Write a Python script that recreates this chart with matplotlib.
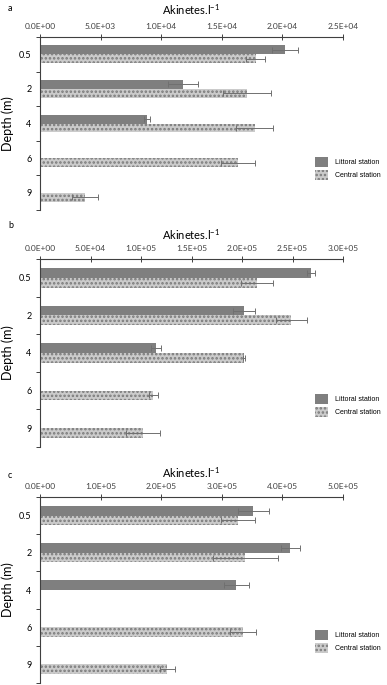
import numpy as np
import matplotlib
matplotlib.use("Agg")
import matplotlib.pyplot as plt
from matplotlib.ticker import FuncFormatter

plt.rcParams['font.family'] = ['Lato', 'DejaVu Sans']
plt.rcParams['hatch.linewidth'] = 1.2

# Depth categories (m)
depths = ['0.5', '2', '4', '6', '9']

# Panel a
littoral_a = [20200, 11800, 8800, np.nan, np.nan]
littoral_a_err = [1050, 1250, 250, np.nan, np.nan]
central_a = [17800, 17100, 17700, 16300, 3700]
central_a_err = [800, 2000, 1500, 1400, 1100]

# Panel b
littoral_b = [268e3, 202e3, 115e3, np.nan, np.nan]
littoral_b_err = [4e3, 10.5e3, 5e3, np.nan, np.nan]
central_b = [215e3, 249e3, 202e3, 112e3, 102e3]
central_b_err = [16e3, 15e3, 1e3, 4.5e3, 17e3]

# Panel c
littoral_c = [352e3, 413e3, 324e3, np.nan, np.nan]
littoral_c_err = [26e3, 16e3, 21e3, np.nan, np.nan]
central_c = [326e3, 339e3, np.nan, 335e3, 210e3]
central_c_err = [28e3, 54e3, np.nan, 21e3, 12e3]

x_ticks_a = [0, 5e3, 1e4, 1.5e4, 2e4, 2.5e4]
x_ticks_b = [0, 5e4, 1e5, 1.5e5, 2e5, 2.5e5, 3e5]
x_ticks_c = [0, 1e5, 2e5, 3e5, 4e5, 5e5]

W, H = 387, 685
fig = plt.figure(figsize=(W / 100, H / 100), dpi=100)


def px_axes(top, bottom, left=40, right=343):
    return fig.add_axes([left / W, 1 - bottom / H, (right - left) / W, (bottom - top) / H])


def draw_panel(ax, lit, lit_err, cen, cen_err, xticks, letter, letter_y, title_pad, leg_y):
    y = np.arange(len(depths))
    h = 0.26
    ekw = dict(ecolor='#707070', elinewidth=0.7, capsize=2, capthick=0.7)
    ax.barh(y - h / 2, lit, height=h, xerr=lit_err, color='#7f7f7f',
            linewidth=0, error_kw=ekw, label='Littoral station')
    ax.barh(y + h / 2, cen, height=h, xerr=cen_err, color='#cbcbcb',
            edgecolor='#7a7a7a', linewidth=0, hatch='....', error_kw=ekw,
            label='Central station')
    ax.set_ylim(len(depths) - 0.5, -0.5)
    ax.set_xlim(xticks[0], xticks[-1])
    ax.xaxis.tick_top()
    ax.xaxis.set_label_position('top')
    ax.set_xticks(xticks)
    ax.xaxis.set_major_formatter(FuncFormatter(lambda v, p: f"{v:.1E}"))
    ax.tick_params(axis='x', direction='inout', length=4, width=0.7,
                   labelsize=6, pad=3, colors='#404040')
    ax.set_xlabel('Akinetes.l$^{\\mathregular{-1}}$', fontsize=8, labelpad=title_pad)
    ax.set_yticks(np.arange(len(depths) + 1) - 0.5)
    ax.set_yticklabels([])
    ax.set_yticks(y, minor=True)
    ax.set_yticklabels(depths, minor=True, fontsize=6.5)
    ax.tick_params(axis='y', which='major', direction='out', length=3, width=0.7,
                   color='#404040')
    ax.tick_params(axis='y', which='minor', length=0, pad=6)
    ax.set_ylabel('Depth (m)', fontsize=9)
    ax.yaxis.set_label_coords(-0.086, 0.5)
    for s in ['right', 'bottom']:
        ax.spines[s].set_visible(False)
    for s in ['top', 'left']:
        ax.spines[s].set_linewidth(0.8)
        ax.spines[s].set_color('#404040')
    ax.text(-0.106, letter_y, letter, transform=ax.transAxes, fontsize=6.5,
            ha='left', va='center')
    ax.legend(loc='upper left', bbox_to_anchor=(0.9076, leg_y), frameon=False,
              handlelength=1.9, handleheight=1.9, labelspacing=0.33,
              handletextpad=1.0, borderpad=0, borderaxespad=0,
              prop={'family': 'Liberation Sans', 'size': 5})


ax_a = px_axes(37, 210)
draw_panel(ax_a, littoral_a, littoral_a_err, central_a, central_a_err,
           x_ticks_a, 'a', 1.162, 6, 0.306)

ax_b = px_axes(259, 447)
draw_panel(ax_b, littoral_b, littoral_b_err, central_b, central_b_err,
           x_ticks_b, 'b', 1.176, 4, 0.282)

ax_c = px_axes(497, 683)
draw_panel(ax_c, littoral_c, littoral_c_err, central_c, central_c_err,
           x_ticks_c, 'c', 1.118, 4, 0.285)

fig.savefig('out.png', dpi=100)
